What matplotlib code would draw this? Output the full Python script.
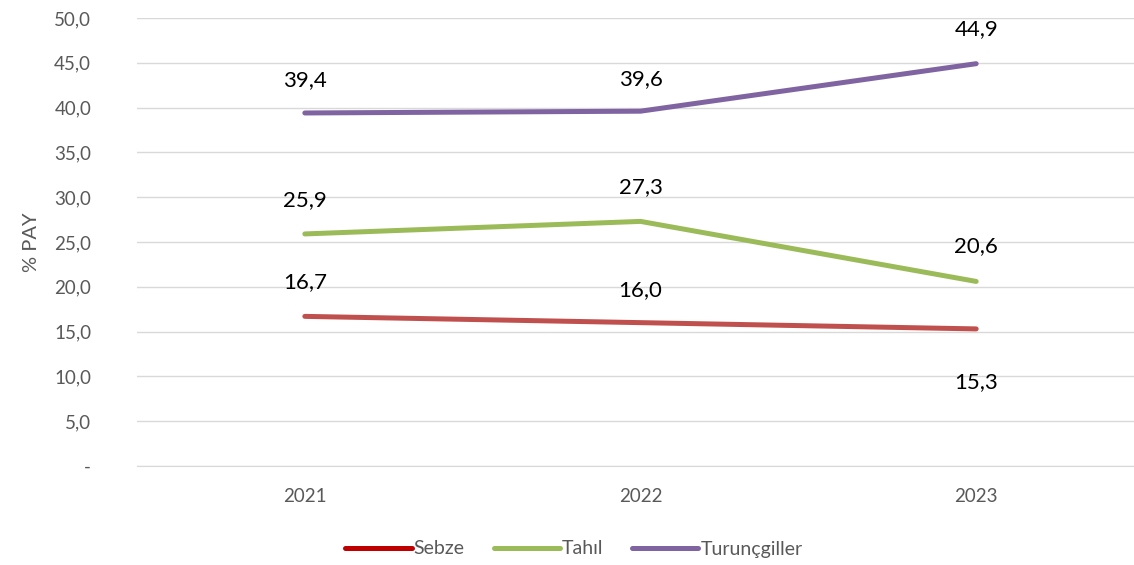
import matplotlib
matplotlib.use("Agg")
import matplotlib.pyplot as plt
from matplotlib.lines import Line2D

years = ["2021", "2022", "2023"]
sebze = [16.7, 16.0, 15.3]
tahil = [25.9, 27.3, 20.6]
turuncgiller = [39.4, 39.6, 44.9]
series_names = ["Sebze", "Tahıl", "Turunçgiller"]
yticks = [0, 5, 10, 15, 20, 25, 30, 35, 40, 45, 50]

line_colors = ["#C0504D", "#9BBB59", "#8064A2"]
legend_colors = ["#C00000", "#9BBB59", "#8064A2"]
label_offsets = [[34, 33, -53], [34, 34, 35], [33, 32, 35]]

plt.rcParams['font.family'] = ['Lato', 'DejaVu Sans']

W, H = 1134, 565
fig = plt.figure(figsize=(W / 100, H / 100), dpi=100)
left, right, top, bottom = 137, 1144, 18, 466
ax = fig.add_axes([left / W, (H - bottom) / H, (right - left) / W, (bottom - top) / H])

x = list(range(len(years)))
data = [sebze, tahil, turuncgiller]
for vals, name, c, offs in zip(data, series_names, line_colors, label_offsets):
    ax.plot(x, vals, color=c, lw=3.6, solid_capstyle='round', zorder=3)
    for xi, v, o in zip(x, vals, offs):
        ax.annotate(f"{v:.1f}".replace(".", ","), (xi, v), xytext=(0, o),
                    textcoords='offset pixels', ha='center', va='center',
                    fontsize=16, color='black')

ax.set_xlim(-0.5, 2.5)
ax.set_ylim(0, 50)
ax.set_yticks(yticks)
ax.set_yticklabels(["-" if t == 0 else f"{t:.1f}".replace(".", ",") for t in yticks])
ax.set_xticks(x)
ax.set_xticklabels(years)
ax.grid(axis='y', color='#D9D9D9', lw=1)
ax.set_axisbelow(True)
for s in ['top', 'right', 'left']:
    ax.spines[s].set_visible(False)
ax.spines['bottom'].set_color('#D9D9D9')
ax.tick_params(axis='both', length=0, labelsize=13.5, labelcolor='#595959')
ax.tick_params(axis='y', pad=33)
ax.tick_params(axis='x', pad=16)
ax.set_ylabel("% PAY", fontsize=14.5, color='#595959', labelpad=10)

handles = [Line2D([], [], color=lc, lw=3.6, solid_capstyle='round') for lc in legend_colors]
fig.legend(handles, series_names, loc='center', bbox_to_anchor=(574 / W, 1 - 549 / H),
           ncol=3, frameon=False, fontsize=14, labelcolor='#595959',
           handlelength=3.4, handletextpad=0.1, columnspacing=1.5)

fig.savefig("out.png", dpi=100)
